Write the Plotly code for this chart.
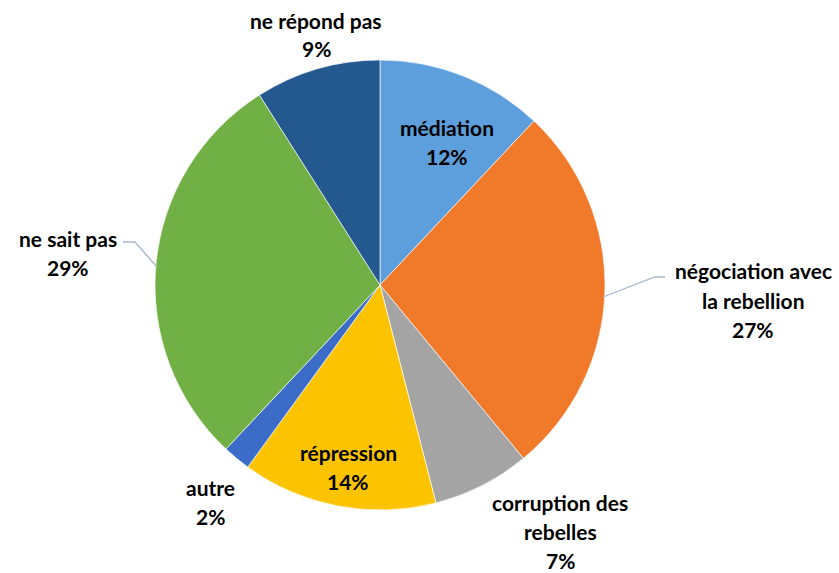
import plotly.graph_objects as go

# Survey answers, listed clockwise from 12 o'clock
labels = ["médiation", "négociation avec<br>la rebellion", "corruption des<br>rebelles",
          "répression", "autre", "ne sait pas", "ne répond pas"]
values = [12, 27, 7, 14, 2, 29, 9]
colors = ["#5D9EDC", "#F07A2A", "#A4A4A4", "#FCC300", "#3A6CC8", "#70B045", "#24598F"]

W, H = 839, 573
cx, cy, r = 380, 285, 225

# label block positions (centre of first text line, in pixels)
label_pos = [(447, 127), (753, 271), (560, 502), (348, 452), (210, 487), (68, 238), (316, 20)]
line_step = 29

fig = go.Figure(go.Pie(
    labels=labels,
    values=values,
    sort=False,
    direction="clockwise",
    rotation=0,
    marker=dict(colors=colors, line=dict(color="rgba(255,255,255,0.8)", width=0.8)),
    textinfo="none",
    hoverinfo="label+percent",
    domain=dict(x=[(cx - r) / W, (cx + r) / W], y=[1 - (cy + r) / H, 1 - (cy - r) / H]),
    showlegend=False,
))

annotations = []
for lab, val, (px, py) in zip(labels, values, label_pos):
    lines = lab.split("<br>") + [f"{val}%"]
    for i, t in enumerate(lines):
        annotations.append(dict(
            x=px / W, y=1 - (py + i * line_step) / H, xref="paper", yref="paper",
            text=t, showarrow=False, xanchor="center", yanchor="middle",
            font=dict(family="Lato", size=21, color="#000000", weight="bold"),
        ))

# leader lines for the two outside labels
leaders = [
    [(123, 242), (135, 242), (157, 267)],
    [(665, 277), (655, 277), (603, 297)],
]
shapes = []
for pts in leaders:
    path = "M " + " L ".join(f"{x / W} {1 - y / H}" for x, y in pts)
    shapes.append(dict(type="path", xref="paper", yref="paper", path=path,
                       line=dict(color="#A9B7C9", width=1.3)))

fig.update_layout(
    width=W, height=H,
    margin=dict(l=0, r=0, t=0, b=0),
    paper_bgcolor="white", plot_bgcolor="white",
    annotations=annotations,
    shapes=shapes,
)

fig.write_html("out.html")
